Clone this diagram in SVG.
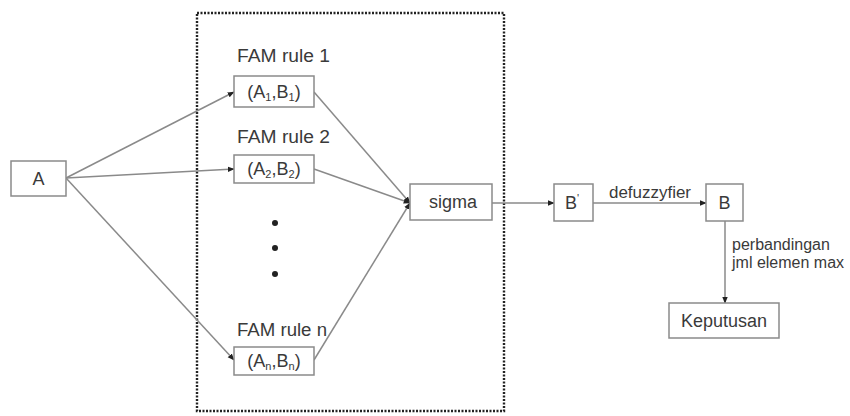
<svg xmlns="http://www.w3.org/2000/svg" width="850" height="416" viewBox="0 0 850 416">
  <style>
    .box { fill: #fff; stroke: #8a8a8a; stroke-width: 1.5; }
    .lbl { font-family: "Liberation Sans", Arial, sans-serif; fill: #3a3a3a; }
    .big { font-size: 18px; }
    .note { font-size: 16px; }
    .sub { font-size: 11px; }
    .edge { stroke: #8a8a8a; stroke-width: 1.5; fill: none; marker-end: url(#arrow); }
  </style>
  <defs>
    <marker id="arrow" viewBox="0 0 10 10" refX="9" refY="5" markerWidth="7" markerHeight="7" markerUnits="userSpaceOnUse" orient="auto">
      <path d="M0,1 L10,5 L0,9 z" fill="#222"/>
    </marker>
  </defs>
  <rect width="850" height="416" fill="#fff"/>

  <!-- FAM rule container -->
  <rect id="fam-group" x="197" y="13" width="307" height="398" fill="none" stroke="#222" stroke-width="2.4" stroke-dasharray="2 1.5"/>

  <g id="connectors">
    <line class="edge" x1="66" y1="178" x2="234" y2="92"/>
    <line class="edge" x1="66" y1="178" x2="234" y2="169"/>
    <line class="edge" x1="66" y1="178" x2="234" y2="360"/>
    <line class="edge" x1="314" y1="92" x2="410" y2="203"/>
    <line class="edge" x1="314" y1="169" x2="410" y2="203"/>
    <line class="edge" x1="314" y1="360" x2="410" y2="203"/>
    <line class="edge" x1="492" y1="203" x2="554" y2="203"/>
    <line class="edge" x1="593" y1="203" x2="706" y2="203"/>
    <line class="edge" x1="725" y1="221" x2="725" y2="303"/>
    <text class="lbl note" x="609" y="198" textLength="82" lengthAdjust="spacingAndGlyphs">defuzzyfier</text>
    <text class="lbl note" x="732" y="250">perbandingan</text>
    <text class="lbl note" x="732" y="268">jml elemen max</text>
  </g>

  <g id="node-a">
    <rect class="box" x="11" y="161" width="55" height="35"/>
    <text class="lbl big" x="38.5" y="185" text-anchor="middle">A</text>
  </g>

  <g id="node-rule1">
    <text class="lbl big" x="237" y="62" textLength="93" lengthAdjust="spacingAndGlyphs">FAM rule 1</text>
    <rect class="box" x="234" y="76" width="80" height="31"/>
    <text class="lbl big" x="274" y="98" text-anchor="middle">(A<tspan class="sub" dy="3">1</tspan><tspan dy="-3">,B</tspan><tspan class="sub" dy="3">1</tspan><tspan dy="-3">)</tspan></text>
  </g>

  <g id="node-rule2">
    <text class="lbl big" x="237" y="143" textLength="93" lengthAdjust="spacingAndGlyphs">FAM rule 2</text>
    <rect class="box" x="234" y="155" width="80" height="28"/>
    <text class="lbl big" x="274" y="175" text-anchor="middle">(A<tspan class="sub" dy="3">2</tspan><tspan dy="-3">,B</tspan><tspan class="sub" dy="3">2</tspan><tspan dy="-3">)</tspan></text>
  </g>

  <g id="ellipsis">
    <circle cx="275" cy="223" r="3" fill="#222"/>
    <circle cx="275" cy="248" r="3" fill="#222"/>
    <circle cx="275" cy="274" r="3" fill="#222"/>
  </g>

  <g id="node-rulen">
    <text class="lbl big" x="237" y="336" textLength="90" lengthAdjust="spacingAndGlyphs">FAM rule n</text>
    <rect class="box" x="234" y="347" width="80" height="28"/>
    <text class="lbl big" x="274" y="367" text-anchor="middle">(A<tspan class="sub" dy="3">n</tspan><tspan dy="-3">,B</tspan><tspan class="sub" dy="3">n</tspan><tspan dy="-3">)</tspan></text>
  </g>

  <g id="node-sigma">
    <rect class="box" x="410" y="184" width="82" height="36"/>
    <text class="lbl big" x="453" y="208" text-anchor="middle">sigma</text>
  </g>

  <g id="node-bprime">
    <rect class="box" x="554" y="184" width="39" height="37"/>
    <text class="lbl big" x="572" y="209" text-anchor="middle">B<tspan class="sub" dy="-7">'</tspan></text>
  </g>

  <g id="node-b">
    <rect class="box" x="706" y="184" width="37" height="37"/>
    <text class="lbl big" x="724.5" y="209" text-anchor="middle">B</text>
  </g>

  <g id="node-keputusan">
    <rect class="box" x="669" y="303" width="110" height="35"/>
    <text class="lbl big" x="724" y="327" text-anchor="middle">Keputusan</text>
  </g>
</svg>
